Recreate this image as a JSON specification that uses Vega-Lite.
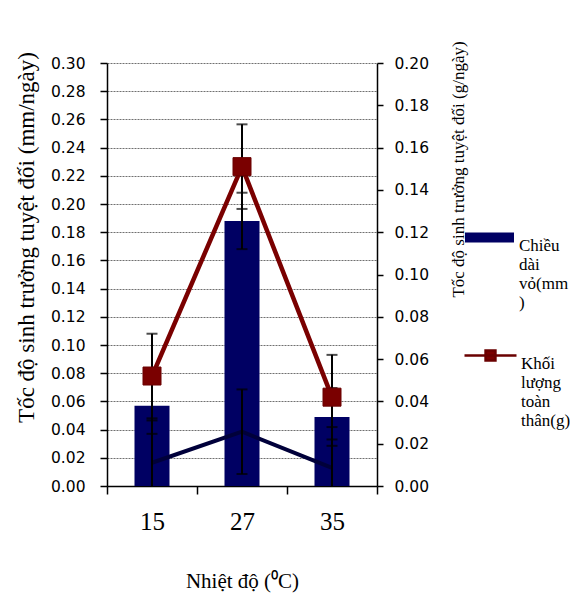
{
  "$schema": "https://vega.github.io/schema/vega-lite/v6.json",
  "width": 270,
  "height": 423,
  "autosize": {"type": "none"},
  "padding": {"left": 107, "top": 63, "right": 193, "bottom": 124},
  "background": "white",
  "config": {
    "view": {"stroke": null},
    "axis": {
      "domainColor": "black",
      "domainWidth": 1.5,
      "tickColor": "black",
      "tickWidth": 1.5,
      "labelColor": "black",
      "titleColor": "black",
      "titleFontWeight": "normal",
      "labelFont": "DejaVu Sans",
      "labelFontSize": 15.5,
      "labelOverlap": false,
      "titleFont": "Liberation Serif"
    },
    "legend": {
      "labelFont": "Liberation Serif",
      "labelFontSize": 16,
      "labelColor": "black",
      "padding": 0
    }
  },
  "data": {
    "values": [
      {"t": "15", "bar": 0.057, "barLo": 0.037, "barHi": 0.077, "mass": 0.052, "massLo": 0.032, "massHi": 0.072, "dark": 0.0165, "darkLo": -0.0135, "darkHi": 0.0465},
      {"t": "27", "bar": 0.188, "barLo": 0.168, "barHi": 0.208, "mass": 0.151, "massLo": 0.131, "massHi": 0.171, "dark": 0.0385, "darkLo": 0.0085, "darkHi": 0.0685},
      {"t": "35", "bar": 0.049, "barLo": 0.0285, "barHi": 0.0695, "mass": 0.042, "massLo": 0.022, "massHi": 0.062, "dark": 0.0128, "darkLo": -0.0162, "darkHi": 0.0418}
    ]
  },
  "encoding": {
    "x": {
      "field": "t",
      "type": "ordinal",
      "scale": {"paddingInner": 0, "paddingOuter": 0},
      "axis": {
        "title": "Nhiệt độ (⁰C)",
        "titleFont": "Liberation Serif",
        "labelAngle": 0,
        "labelFont": "Liberation Serif",
        "labelFontSize": 25,
        "labelPadding": 15,
        "tickSize": 8,
        "tickBand": "extent",
        "titleFontSize": 21,
        "titleBaseline": "alphabetic",
        "titleY": 101
      }
    }
  },
  "layer": [
    {
      "encoding": {
        "y": {
          "type": "quantitative",
          "scale": {"domain": [0, 0.3], "nice": false, "zero": true}
        }
      },
      "layer": [
        {
          "mark": {"type": "bar", "width": 35},
          "encoding": {
            "y": {
              "field": "bar",
              "type": "quantitative",
              "axis": {
                "title": "Tốc độ sinh trưởng tuyệt đối (mm/ngày)",
                "titleFont": "Liberation Serif",
                "values": [0, 0.02, 0.04, 0.06, 0.08, 0.1, 0.12, 0.14, 0.16, 0.18, 0.2, 0.22, 0.24, 0.26, 0.28, 0.3],
                "tickCount": 20,
                "format": ".2f",
                "labelOverlap": false,
                "grid": true,
                "gridColor": "#707070",
                "gridDash": [2, 1],
                "gridWidth": 1,
                "tickSize": 7,
                "labelPadding": 15,
                "titleFontSize": 23,
                "titleAngle": 270,
                "titleAlign": "center",
                "titleBaseline": "alphabetic",
                "titleX": -74,
                "titleY": 174
              }
            },
            "fill": {
              "datum": "Chiều dài vỏ(mm)",
              "type": "nominal",
              "scale": {"range": ["#000063"]},
              "legend": {
                "orient": "none",
                "legendX": 358,
                "legendY": 150,
                "title": null,
                "symbolType": "M-1,-0.2H1V0.2H-1Z",
                "symbolSize": 2401,
                "symbolStrokeWidth": 0,
                "labelExpr": "['Chiều','dài','vỏ(mm',')']",
                "labelFont": "Liberation Serif",
                "labelFontSize": 17,
                "labelBaseline": "top",
                "labelOffset": 5
              }
            }
          }
        },
        {
          "mark": {"type": "line", "color": "#00003a", "strokeWidth": 4},
          "encoding": {"y": {"field": "dark", "type": "quantitative"}}
        },
        {
          "mark": {"type": "rule", "color": "black", "strokeWidth": 2, "clip": true},
          "encoding": {"y": {"field": "barLo", "type": "quantitative"}, "y2": {"field": "barHi"}}
        },
        {
          "mark": {"type": "tick", "color": "black", "size": 11, "thickness": 2, "clip": true},
          "encoding": {"y": {"field": "barLo", "type": "quantitative"}}
        },
        {
          "mark": {"type": "tick", "color": "black", "size": 11, "thickness": 2, "clip": true},
          "encoding": {"y": {"field": "barHi", "type": "quantitative"}}
        },
        {
          "mark": {"type": "rule", "color": "black", "strokeWidth": 2, "clip": true},
          "encoding": {"y": {"field": "darkLo", "type": "quantitative"}, "y2": {"field": "darkHi"}}
        },
        {
          "mark": {"type": "tick", "color": "black", "size": 11, "thickness": 2, "clip": true},
          "encoding": {"y": {"field": "darkHi", "type": "quantitative"}}
        },
        {
          "mark": {"type": "tick", "color": "black", "size": 11, "thickness": 2, "clip": true},
          "encoding": {"y": {"field": "darkLo", "type": "quantitative"}}
        }
      ]
    },
    {
      "encoding": {
        "y": {
          "type": "quantitative",
          "scale": {"domain": [0, 0.2], "nice": false, "zero": true}
        }
      },
      "layer": [
        {
          "mark": {"type": "rule", "color": "black", "strokeWidth": 2},
          "encoding": {
            "y": {
              "field": "massLo",
              "type": "quantitative",
              "axis": {
                "orient": "right",
                "title": "Tốc độ sinh trưởng tuyệt đối (g/ngày)",
                "titleFont": "Liberation Serif",
                "values": [0, 0.02, 0.04, 0.06, 0.08, 0.1, 0.12, 0.14, 0.16, 0.18, 0.2],
                "tickCount": 20,
                "format": ".2f",
                "labelOverlap": false,
                "grid": false,
                "tickSize": 6,
                "labelPadding": 11,
                "titleFontSize": 17,
                "titleAngle": 270,
                "titleAlign": "center",
                "titleBaseline": "alphabetic",
                "titleX": 86,
                "titleY": 106
              }
            },
            "y2": {"field": "massHi"}
          }
        },
        {
          "mark": {"type": "tick", "color": "black", "size": 11, "thickness": 2},
          "encoding": {"y": {"field": "massLo", "type": "quantitative"}}
        },
        {
          "mark": {"type": "tick", "color": "black", "size": 11, "thickness": 2},
          "encoding": {"y": {"field": "massHi", "type": "quantitative"}}
        },
        {
          "mark": {"type": "line", "color": "#7a0000", "strokeWidth": 4.5},
          "encoding": {"y": {"field": "mass", "type": "quantitative"}}
        },
        {
          "mark": {"type": "square", "size": 324, "filled": true, "fill": "#7a0000", "fillOpacity": 1, "strokeWidth": 1, "opacity": 1},
          "encoding": {
            "y": {"field": "mass", "type": "quantitative"},
            "stroke": {
              "datum": "Khối lượng toàn thân(g)",
              "type": "nominal",
              "scale": {"range": ["#6a0000"]},
              "legend": {
                "orient": "none",
                "legendX": 356,
                "legendY": 265,
                "title": null,
                "symbolType": "M-1,0H1M-0.19,-0.19H0.19V0.19H-0.19Z",
                "symbolSize": 2704,
                "symbolStrokeWidth": 2.5,
                "symbolFillColor": "#7a0000",
                "labelExpr": "['Khối','lượng','toàn','thân(g)']",
                "labelFont": "Liberation Serif",
                "labelFontSize": 17,
                "labelBaseline": "top",
                "labelOffset": 3
              }
            }
          }
        }
      ]
    }
  ],
  "resolve": {"scale": {"y": "independent", "fill": "independent", "stroke": "independent"}}
}
